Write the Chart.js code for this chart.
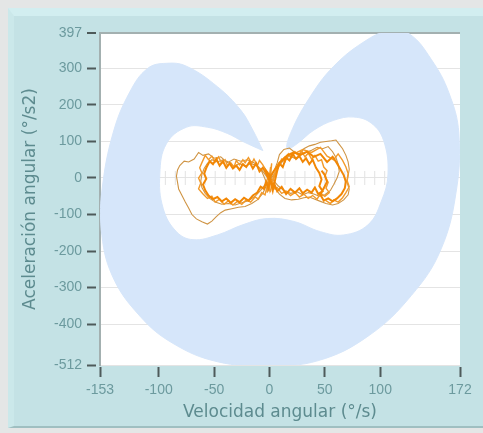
<!DOCTYPE html>
<html>
<head>
<meta charset="utf-8">
<script src="https://cdn.jsdelivr.net/npm/chart.js@4.4.1/dist/chart.umd.min.js"></script>
<style>
  html, body { margin: 0; padding: 0; }
  body { width: 483px; height: 433px; background: #e4e6e6; position: relative; overflow: hidden; }
  #panel { position: absolute; left: 8px; top: 8px; width: 475px; height: 420px;
    background: #c4e2e5; border-top: 8px solid #d2eef0; border-left: 6px solid #cbe8ea;
    border-bottom: 2px solid #9fbfc1; box-sizing: border-box; }
  #wrap { position: absolute; left: 0; top: 0; width: 483px; height: 433px; }
</style>
</head>
<body>
<div id="panel"></div>
<div id="wrap"><canvas id="grafico" width="483" height="433"></canvas></div>
<script>
'use strict';

// ticks of both axes
var ticksVel = [-153, -100, -50, 0, 50, 100, 172];
var ticksAcel = [397, 300, 200, 100, 0, -100, -200, -300, -400, -512];

// blue region (U shaped), velocity / acceleration
var contornoVel = [-6, -15, -26, -47, -75, -93, -110, -126, -141, -151, -152, -142, -117, -87, -47, -2, 44, 89, 128, 155, 169, 171, 162, 146, 126, 108, 89, 58, 35, 19, 16,
  25, 40, 58, 76, 92, 103, 107, 101, 89, 67, 46, 22, -2, -24, -47, -69, -84, -96, -99, -93, -75, -56, -38, -24, -6];
var contornoAcel = [75, 131, 186, 250, 306, 314, 300, 236, 125, -28, -139, -267, -378, -453, -503, -514, -500, -433, -322, -194, -28, 122, 233, 325, 395, 402, 380, 306, 214, 122, 80,
  94, 131, 158, 167, 150, 103, 11, -64, -128, -156, -147, -119, -111, -128, -156, -169, -147, -83, 11, 94, 139, 139, 122, 100, 75];

// thin trajectory
var trazoVel1 = [-3, -8, -14, -20, -26, -32, -38, -44, -50, -55, -60, -64, -68, -73, -77, -81, -83, -84, -83, -82, -79, -76, -73, -70, -66, -61, -56, -52, -48, -44, -40, -34, -28, -22, -16, -11, -6, -3, 0,
  4, 7, 9, 13, 18, 23, 27, 31, 36, 41, 46, 51, 56, 60, 63, 66, 69, 71, 72, 71, 70, 72, 71, 67, 62, 57, 51, 46, 41, 36, 31, 26, 20, 14, 9, 5, 2, -2,
  -7, -12, -17, -22, -27, -32, -37, -42, -47, -52, -56, -59, -61, -62, -61, -58, -54, -49, -43, -37, -31, -25, -19, -13, -8, -4, 1,
  5, 9, 13, 18, 23, 28, 33, 38, 43, 48, 53, 57, 60, 62, 63, 61, 58, 55, 50, 45, 40, 35, 30, 25, 19, 13, 8, 4, 0];
var trazoAcel1 = [-10, 25, 42, 50, 46, 52, 42, 58, 54, 66, 62, 70, 52, 44, 46, 34, 22, 5, -12, -30, -48, -66, -82, -100, -112, -120, -126, -118, -106, -95, -88, -84, -80, -78, -70, -60, -42, -22, -4,
  18, 42, 64, 78, 82, 70, 62, 80, 88, 92, 98, 100, 102, 104, 92, 80, 62, 44, 24, 6, -12, -30, -46, -60, -70, -74, -70, -64, -58, -52, -54, -58, -60, -56, -44, -28, -12, 2,
  22, 34, 40, 32, 40, 30, 44, 50, 44, 50, 40, 26, 10, -8, -26, -42, -56, -66, -72, -70, -74, -68, -62, -50, -34, -18, -4,
  14, 34, 50, 60, 54, 62, 70, 76, 84, 80, 86, 72, 56, 38, 18, 0, -18, -34, -46, -50, -44, -40, -46, -38, -42, -34, -22, -8, 0];

// dense trajectory
var trazoVel2 = [0, -3, -6, -9, -12, -15, -18, -21, -24, -27, -30, -33, -36, -39, -42, -45, -48, -51, -54, -57, -59, -57, -60, -58, -55, -51, -47, -43, -39, -35, -31, -27, -23, -19, -15, -11, -8, -5, -3, -1,
  1, -2, 2, 0, 3, 5, 7, 9, 12, 15, 18, 21, 24, 27, 30, 33, 36, 39, 42, 45, 47, 45, 48, 44, 41, 38, 34, 30, 27, 23, 19, 15, 11, 7, 4, 2, 0,
  4, 10, 16, 22, 28, 34, 40, 46, 52, 57, 61, 64, 67, 69, 68, 65, 61, 57, 53, 49, 46, 49, 52, 50, 47];
var trazoAcel2 = [-6, 12, 28, 18, 40, 26, 44, 30, 38, 22, 34, 26, 40, 28, 46, 34, 52, 38, 46, 28, 12, -2, -18, -34, -48, -58, -52, -64, -56, -68, -58, -66, -54, -62, -48, -40, -24, -30, -10, -28,
  4, 16, -18, 10, -34, -6, 20, 40, 30, 56, 48, 66, 52, 60, 44, 54, 38, 50, 28, 14, -4, -22, -36, -44, -26, -40, -32, -42, -28, -40, -30, -44, -24, -36, -14, -22, 0,
  20, 44, 62, 70, 64, 72, 58, 66, 44, 58, 40, 24, 8, -10, -28, -44, -56, -64, -56, -62, -46, -28, -10, 8, 20];

// another dense pass
var trazoVel3 = [-2, 1, -1, 2, 0, -3, -6, -9, -11, -14, -16, -19, -22, -24, -27, -30, -32, -35, -38, -40, -43, -46, -49, -52, -55, -58, -61, -63, -61, -64, -62, -64, -60, -56, -52, -49, -45, -41, -37, -33, -29, -25, -21, -17, -13, -10, -7, -4, -2, 1, 3,
  6, 8, 11, 14, 17, 20, 23, 26, 29, 32, 35, 38, 41, 44, 47, 49, 52, 50, 53, 51, 54, 50, 46, 43, 39, 35, 31, 27, 23, 19, 15, 11, 7, 4, 2,
  8, 14, 22, 30, 38, 46, 52, 58, 62, 66, 69, 71, 70, 72, 69, 66, 62, 58, 55, 51];
var trazoAcel3 = [-40, 30, -20, 40, -30, 20, 36, 48, 34, 52, 40, 56, 42, 50, 36, 48, 30, 42, 34, 50, 40, 58, 44, 60, 50, 62, 42, 28, 14, 0, -14, -30, -44, -56, -50, -66, -58, -72, -62, -74, -64, -72, -60, -66, -52, -58, -40, -46, -20, -36, -8,
  16, 34, 52, 44, 66, 56, 72, 62, 74, 58, 68, 52, 62, 46, 50, 30, 20, 4, -12, -28, -40, -50, -42, -58, -48, -56, -44, -52, -40, -48, -36, -42, -26, -30, -10,
  40, 58, 66, 78, 70, 84, 60, 50, 66, 48, 30, 12, -6, -24, -40, -54, -66, -60, -70, -62];

// small marks along the zero line
var marcasVel = [-148, -139, -130, -121, -112, -103, -94, -85, -76, -67, -58, -49, -40, -31, -22, -13, -4, 5, 14, 23, 32, 41, 50, 59, 68, 77, 86, 95, 104, 113, 122, 131, 140, 149, 158, 167];

function puntos(xs, ys) {
  var tempArray = [];
  for (var i = 0; i < xs.length; i++) {
    tempArray.push({x: xs[i], y: ys[i]});
  }
  return tempArray;
}

var colorTexto = '#5d8b8f';
var colorTicks = '#6c9a9e';

var fondoBlanco = {
  id: 'fondoBlanco',
  beforeDraw: function (chart) {
    var a = chart.chartArea;
    var ctx = chart.ctx;
    ctx.save();
    ctx.fillStyle = '#ffffff';
    ctx.fillRect(a.left, a.top, a.right - a.left, a.bottom - a.top);
    ctx.restore();
  }
};

var ctx = document.getElementById('grafico').getContext('2d');
var chart = new Chart(ctx, {
  type: 'scatter',
  data: {
    datasets: [{
      label: 'trazo denso',
      data: puntos(trazoVel2, trazoAcel2),
      showLine: true,
      borderColor: '#f28705',
      borderWidth: 2,
      pointRadius: 0,
      order: 0
    }, {
      label: 'trazo denso 2',
      data: puntos(trazoVel3, trazoAcel3),
      showLine: true,
      borderColor: '#f39a2a',
      borderWidth: 1.4,
      pointRadius: 0,
      order: 1
    }, {
      label: 'trazo',
      data: puntos(trazoVel1, trazoAcel1),
      showLine: true,
      borderColor: '#cf9444',
      borderWidth: 1.1,
      pointRadius: 0,
      order: 2
    }, {
      label: 'zona',
      data: puntos(contornoVel, contornoAcel),
      showLine: true,
      fill: 'shape',
      tension: 0.4,
      backgroundColor: '#d6e6fa',
      borderColor: '#d6e6fa',
      borderWidth: 1,
      pointRadius: 0,
      order: 3
    }, {
      label: 'marcas',
      data: marcasVel.map(function (v) { return {x: v, y: 0}; }),
      pointStyle: 'line',
      rotation: 90,
      radius: 7,
      borderColor: '#e2e2e2',
      borderWidth: 1,
      backgroundColor: '#e2e2e2',
      order: 4
    }]
  },
  options: {
    responsive: false,
    animation: false,
    events: [],
    layout: { padding: { left: 0, top: 33, right: 23, bottom: 0 } },
    plugins: { legend: { display: false }, tooltip: { enabled: false } },
    scales: {
      x: {
        type: 'linear',
        min: -153,
        max: 172,
        afterBuildTicks: function (scale) {
          scale.ticks = ticksVel.map(function (v) { return {value: v}; });
        },
        afterFit: function (scale) { scale.height = 68; },
        border: { display: false },
        grid: {
          drawOnChartArea: false,
          drawTicks: true,
          tickLength: 12,
          tickColor: '#4e5a5a',
          tickWidth: 2,
          tickBorderDash: [10, 2],
          tickBorderDashOffset: 10
        },
        ticks: {
          padding: 5,
          maxRotation: 0,
          autoSkip: false,
          color: colorTicks,
          font: { family: 'Liberation Sans', size: 14 },
          callback: function (v) { return String(v); }
        },
        title: {
          display: true,
          text: 'Velocidad angular (°/s)',
          color: colorTexto,
          font: { family: 'DejaVu Sans', size: 17 },
          padding: { top: 0, bottom: 10 }
        }
      },
      y: {
        type: 'linear',
        min: -512,
        max: 397,
        afterBuildTicks: function (scale) {
          scale.ticks = ticksAcel.map(function (v) { return {value: v}; });
        },
        afterFit: function (scale) { scale.width = 100; },
        border: { display: true, color: '#a3b0b0', width: 2 },
        grid: {
          color: function (c) { return c.tick && c.tick.value === 397 ? '#a3b0b0' : '#e4e4e4'; },
          lineWidth: function (c) { return c.tick && c.tick.value === 397 ? 2 : 1; },
          drawTicks: true,
          tickLength: 13,
          tickColor: '#4e5a5a',
          tickWidth: 2,
          tickBorderDash: [9, 4]
        },
        ticks: {
          padding: 5,
          autoSkip: false,
          color: colorTicks,
          font: { family: 'Liberation Sans', size: 14 },
          callback: function (v) { return String(v); }
        },
        title: {
          display: true,
          text: 'Aceleración angular (°/s2)',
          color: colorTexto,
          font: { family: 'DejaVu Sans', size: 17 },
          padding: { top: 20, bottom: 0 }
        }
      }
    }
  },
  plugins: [fondoBlanco]
});
</script>
</body>
</html>
